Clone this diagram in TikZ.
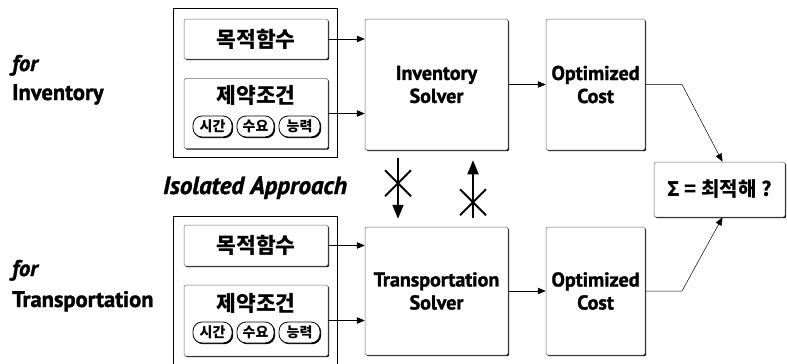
\documentclass[tikz,border=0pt]{standalone}
\usepackage{fontspec}
\setmainfont{PT Sans}[BoldFeatures={FakeBold=1.5}, BoldItalicFeatures={FakeBold=1.5}]
\newfontfamily\kr{Noto Sans CJK KR}
\usetikzlibrary{arrows.meta,shadows,calc}

\begin{document}
\begin{tikzpicture}[x=1pt,y=-1pt,
  shade box/.style={drop shadow={shadow xshift=1.2pt, shadow yshift=-1.2pt, fill=black, opacity=1}},
  box/.style={draw=black!60, line width=0.5pt, fill=white, rounded corners=1.5pt, inner sep=0pt, shade box},
  group/.style={draw=black, line width=0.7pt, inner sep=0pt},
  pill/.style={draw=black, line width=0.8pt, fill=white, rounded corners=9pt, minimum width=39pt, minimum height=21pt, inner sep=0pt, font=\kr\bfseries\fontsize{14}{14}\selectfont, shade box},
  krtext/.style={font=\kr\bfseries\fontsize{21.5}{21.5}\selectfont, inner sep=0pt},
  boxtext/.style={font=\bfseries\fontsize{20}{23}\selectfont, align=center},
  side/.style={font=\bfseries\fontsize{22.5}{22.5}\selectfont, anchor=base west, inner sep=0pt},
  flow/.style={-{Triangle[length=8pt,width=6.5pt]}, line width=0.5pt},
  blocked/.style={line width=1.8pt, -{Triangle[length=14pt,width=11pt]}},
  cross/.style={line width=1.8pt}
]
\clip (0,0) rectangle (787,364);

% ---- inventory row ----
\node[group, minimum width=164pt, minimum height=149pt] (grpA) at (255,82.5) {};
\node[box, minimum width=144pt, minimum height=40pt, krtext] (objA) at (256,39) {목적함수};
\node[box, minimum width=144pt, minimum height=70pt] (conA) at (256,113.5) {};
\node[krtext] (conAt) at (256,95) {제약조건};
\node[pill] (pA1) at (212.5,126.5) {시간};
\node[pill, minimum width=37pt] (pA2) at (255.5,126.5) {수요};
\node[pill, minimum width=41pt] (pA3) at (299.5,126.5) {능력};

\node[box, minimum width=143pt, minimum height=131pt, boxtext] (solA) at (436.5,84.5) {Inventory\\Solver};
\node[box, minimum width=99pt, minimum height=131pt, boxtext] (costA) at (595.5,84.5) {Optimized\\Cost};

% ---- transportation row ----
\node[group, minimum width=164pt, minimum height=160pt] (grpB) at (255,296) {};
\node[box, minimum width=144pt, minimum height=41pt, krtext] (objB) at (256,245.5) {목적함수};
\node[box, minimum width=144pt, minimum height=71pt] (conB) at (256,320.5) {};
\node[krtext] (conBt) at (256,303) {제약조건};
\node[pill] (pB1) at (212.5,332.5) {시간};
\node[pill, minimum width=37pt] (pB2) at (255.5,332.5) {수요};
\node[pill, minimum width=41pt] (pB3) at (299.5,332.5) {능력};

\node[box, minimum width=143pt, minimum height=128pt, boxtext] (solB) at (436.5,291) {Transportation\\Solver};
\node[box, minimum width=99pt, minimum height=128pt, boxtext] (costB) at (595.5,291) {Optimized\\Cost};

% ---- combined result ----
\node[box, minimum width=131pt, minimum height=55pt, font=\kr\bfseries\fontsize{20}{20}\selectfont] (sum) at (719.5,189.5) {Σ = 최적해 ?};

% ---- side labels ----
\node[side] (forA) at (12,71) {\itshape for};
\node[side] (invA) at (12,100) {Inventory};
\node[side] (forB) at (12,276) {\itshape for};
\node[side] (trnB) at (12,307) {Transportation};
\node[font=\bfseries\itshape\fontsize{25}{25}\selectfont, anchor=base, inner sep=0pt] (iso) at (255,194) {Isolated Approach};

% ---- flows ----
\draw[flow] (objA.east) -- (objA.east -| solA.west);
\draw[flow] (conA.east) -- (conA.east -| solA.west);
\draw[flow] (solA.east) -- (costA.west);
\draw[flow] (objB.east) -- (objB.east -| solB.west);
\draw[flow] (conB.east) -- (conB.east -| solB.west);
\draw[flow] (solB.east) -- (costB.west);

\coordinate (bendA) at (682,84.5);
\coordinate (bendB) at (682,291);
\draw[flow] (costA.east) -- (bendA) -- ($(sum.north)+(3,0)$);
\draw[flow] (costB.east) -- (bendB) -- ($(sum.south)+(3,0)$);

% ---- blocked exchanges between the solvers ----
\draw[blocked] ($(solA.south)+(-38.5,8)$) -- ($(solB.north)+(-38.5,-8)$);
\coordinate (xa) at ($(solA.south)+(-38.5,33)$);
\draw[cross] ($(xa)+(-13,-13)$) -- ($(xa)+(13,13)$);
\draw[cross] ($(xa)+(-13,13)$) -- ($(xa)+(13,-13)$);

\draw[blocked] ($(solB.north)+(36.5,-9)$) -- ($(solA.south)+(36.5,10)$);
\coordinate (xb) at ($(solA.south)+(36.5,52)$);
\draw[cross] ($(xb)+(-13,-13)$) -- ($(xb)+(13,13)$);
\draw[cross] ($(xb)+(-13,13)$) -- ($(xb)+(13,-13)$);
\end{tikzpicture}
\end{document}
